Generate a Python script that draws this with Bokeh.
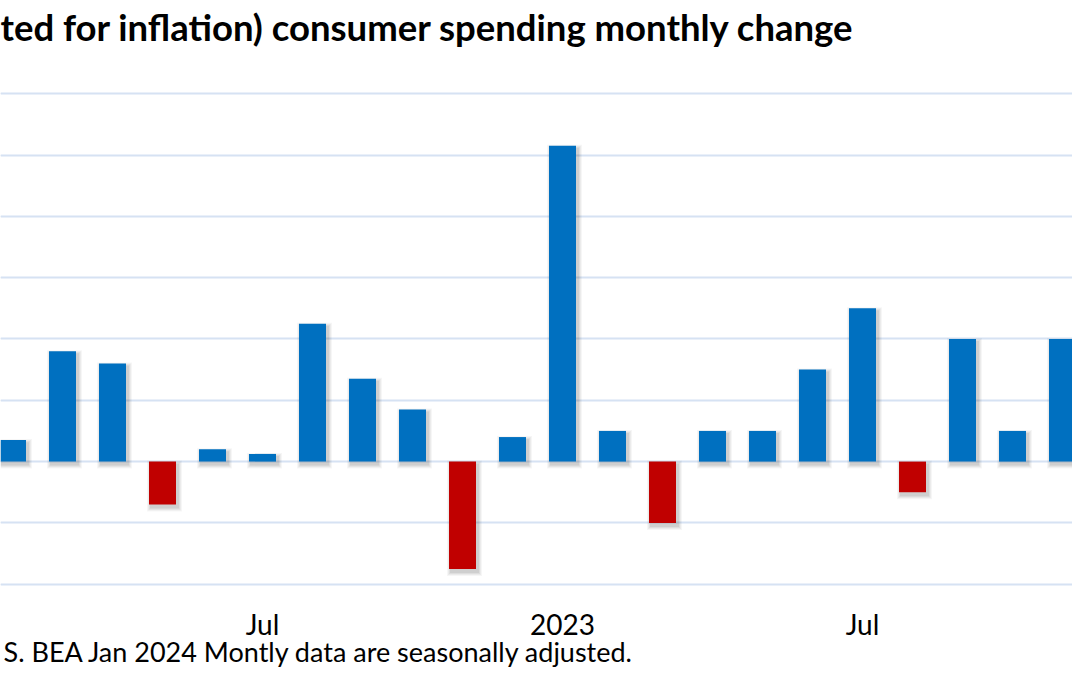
from bokeh.plotting import figure
from bokeh.models import Range1d, FixedTicker, Grid, Title, ColumnDataSource
from bokeh.embed import file_html
from bokeh.resources import INLINE

# ---- data ----
months = ["2022-02", "2022-03", "2022-04", "2022-05", "2022-06", "2022-07",
          "2022-08", "2022-09", "2022-10", "2022-11", "2022-12", "2023-01",
          "2023-02", "2023-03", "2023-04", "2023-05", "2023-06", "2023-07",
          "2023-08", "2023-09", "2023-10", "2023-11"]
month_index = list(range(1, 23))  # months since Jan 2022
change_pct = [0.07, 0.36, 0.32, -0.14, 0.04, 0.025, 0.45, 0.27, 0.17, -0.35, 0.08,
              1.03, 0.10, -0.20, 0.10, 0.10, 0.30, 0.50, -0.10, 0.40, 0.10, 0.40]
tick_positions = [0, 6, 12, 18, 24]
tick_labels = ["2022", "Jul", "2023", "Jul", "2024"]
y_grid_values = [-0.4, -0.2, 0.0, 0.2, 0.4, 0.6, 0.8, 1.0, 1.2]
title_text = "ted for inflation) consumer spending monthly change"
source_text = "S. BEA Jan 2024 Montly data are seasonally adjusted."

BLUE = "#0070C0"
RED = "#C00000"
GRID = "#D6E2F3"
FONT = "Lato"

W, H = 1072, 667
p = figure(width=W, height=H, x_range=Range1d(0.76, 22.2), y_range=Range1d(-0.414, 1.217),
           y_axis_location=None, toolbar_location=None, output_backend="svg",
           min_border_left=0, min_border_right=0, min_border_top=88, min_border_bottom=79)
p.outline_line_color = None
p.background_fill_color = "white"
p.border_fill_color = "white"
p.xgrid.visible = False

p.add_layout(Grid(dimension=1, ticker=FixedTicker(ticks=y_grid_values),
                  grid_line_color=GRID, grid_line_width=2))

# shadow offsets in data units (1 px ~ 1/50 month horizontally, 1/306.5 vertically)
px = 1 / 50.0
py = 1 / 306.5
bar_w = 0.54
colors = [BLUE if v >= 0 else RED for v in change_pct]
tops = [max(v, 0) for v in change_pct]
bottoms = [min(v, 0) for v in change_pct]

for k, a in [(4, 0.035), (3, 0.045), (2, 0.055), (1, 0.065)]:
    sh = ColumnDataSource(dict(
        x=[m + 2 * px for m in month_index],
        top=[t - 3 * py + k * py for t in tops],
        bottom=[b - 3 * py - k * py for b in bottoms],
    ))
    p.vbar(x="x", top="top", bottom="bottom", width=bar_w + 2 * k * px, source=sh,
           fill_color="black", fill_alpha=a, line_color=None)

src = ColumnDataSource(dict(x=month_index, top=tops, bottom=bottoms, color=colors, month=months))
p.vbar(x="x", top="top", bottom="bottom", width=bar_w, source=src,
       fill_color="color", line_color=None)

ax = p.xaxis[0]
ax.ticker = FixedTicker(ticks=tick_positions)
ax.major_label_overrides = {t: l for t, l in zip(tick_positions, tick_labels)}
ax.axis_line_color = None
ax.major_tick_line_color = None
ax.minor_tick_line_color = None
ax.major_tick_out = 0
ax.major_tick_in = 0
ax.major_label_standoff = 18
ax.major_label_text_font = FONT
ax.major_label_text_font_size = "28px"
ax.major_label_text_color = "black"

# spacer between frame and title (nearest to the frame), then the title itself
p.add_layout(Title(text=" ", standoff=37, text_font_size="1px"), "above")
p.add_layout(Title(text=title_text, align="left", offset=0, standoff=0,
                   text_font=FONT, text_font_style="bold", text_font_size="36.5px",
                   text_color="black"), "above")
p.add_layout(Title(text=source_text, align="left", offset=3, standoff=-21,
                   text_font=FONT, text_font_style="normal", text_font_size="27px",
                   text_color="black"), "below")

open("out.html", "w").write(file_html(p, INLINE))
